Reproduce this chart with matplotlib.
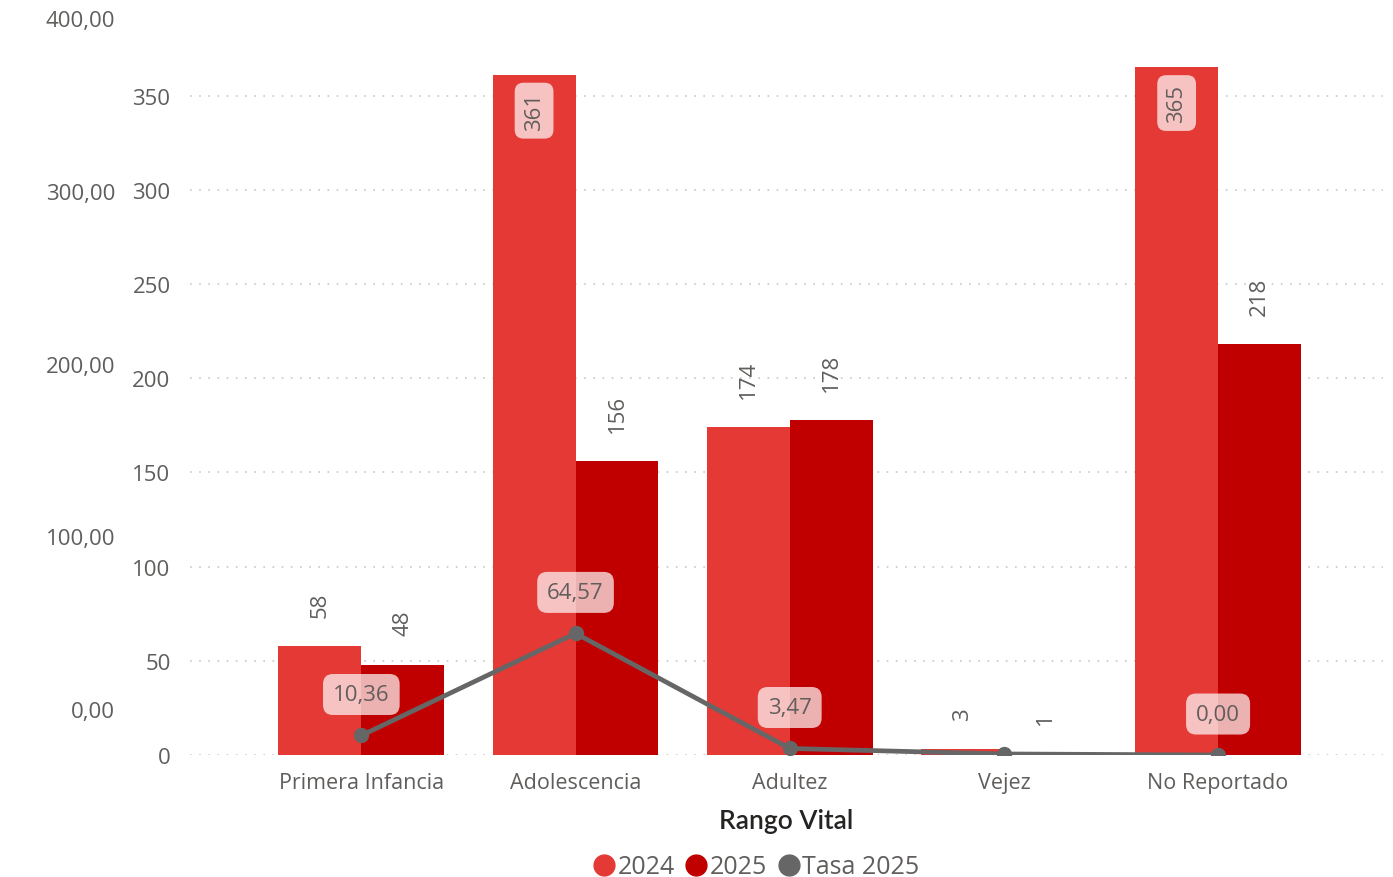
import numpy as np
import matplotlib.pyplot as plt
from matplotlib.lines import Line2D

# data
categorias = ['Primera Infancia', 'Adolescencia', 'Adultez', 'Vejez', 'No Reportado']
casos_2024 = [58, 361, 174, 3, 365]
casos_2025 = [48, 156, 178, 1, 218]
tasa_2025 = [10.36, 64.57, 3.47, 0.55, 0.00]
tasa_labels = ['10,36', '64,57', '3,47', None, '0,00']
ticks_tasa = [0, 100, 200, 300, 400]

c24 = '#E53935'
c25 = '#C00000'
cline = '#666666'
ctext = '#605E5C'

plt.rcParams['font.family'] = ['Open Sans', 'DejaVu Sans']

fig = plt.figure(figsize=(13.93, 8.78), dpi=100)
W, H = 1393, 878
left, right, bottom, top = 190 / W, 1383 / W, (H - 756) / H, (H - 10) / H
rect = [left, bottom, right - left, top - bottom]

# secondary labels (drawn at the far left, as in the report)
ax3 = fig.add_axes(rect)
ax3.set_ylim(-26.6, 405.2)
ax3.set_yticks(ticks_tasa)
ax3.set_yticklabels([f'{t:.2f}'.replace('.', ',') for t in ticks_tasa])
ax3.tick_params(axis='y', length=0, pad=54, labelsize=16, labelcolor=ctext)
ax3.set_xticks([])
for s in ax3.spines.values():
    s.set_visible(False)
ax3.patch.set_visible(False)

ax = fig.add_axes(rect)
ax.patch.set_visible(False)
x = np.arange(len(categorias))
w = 0.387
ax.bar(x - w / 2, casos_2024, w, color=c24, zorder=2)
ax.bar(x + w / 2, casos_2025, w, color=c25, zorder=2)
ax.plot(x, tasa_2025, color=cline, lw=3.4, marker='o', ms=10, zorder=4)

ax.set_xlim(-0.8, 4.77)
ax.set_ylim(0, 396)
ax.set_yticks(range(0, 351, 50))
ax.yaxis.grid(True, color='#C8C8C8', lw=1.2, linestyle=(0, (1, 4.5)), zorder=0)
ax.set_axisbelow(True)
ax.tick_params(axis='y', length=0, pad=14, labelsize=16, labelcolor=ctext)
ax.set_xticks(x)
ax.set_xticklabels(categorias)
ax.tick_params(axis='x', length=0, pad=12, labelsize=15.5, labelcolor=ctext)
for s in ax.spines.values():
    s.set_visible(False)

ax.set_xlabel('Rango Vital', fontsize=19, fontweight='semibold', color='#252423',
              family=['Lato', 'DejaVu Sans'], labelpad=11)

# bar labels
box_bar = dict(boxstyle='round,pad=0.4,rounding_size=0.4', fc='white', ec='none', alpha=0.7)
for xs, vals in ((x - w / 2, casos_2024), (x + w / 2, casos_2025)):
    for xi, v in zip(xs, vals):
        if v > 330:
            ax.annotate(str(v), (xi, v), xytext=(0, -12), textcoords='offset points',
                        rotation=90, ha='center', va='top', fontsize=16, color=ctext,
                        bbox=box_bar, zorder=5)
        else:
            ax.annotate(str(v), (xi, v), xytext=(0, 21), textcoords='offset points',
                        rotation=90, ha='center', va='bottom', fontsize=16, color=ctext,
                        zorder=5)

# line labels
box_line = dict(boxstyle='round,pad=0.45,rounding_size=0.45', fc='white', ec='none', alpha=0.7)
for xi, v, lab in zip(x, tasa_2025, tasa_labels):
    if lab is None:
        continue
    ax.annotate(lab, (xi, v), xytext=(0, 29.5), textcoords='offset points',
                ha='center', va='center', fontsize=16, color=ctext,
                bbox=box_line, zorder=6)

handles = [Line2D([], [], marker='o', ls='none', ms=15, color=c24),
           Line2D([], [], marker='o', ls='none', ms=15, color=c25),
           Line2D([], [], marker='o', ls='none', ms=15, color=cline)]
fig.legend(handles, ['2024', '2025', 'Tasa 2025'], loc='center', bbox_to_anchor=(755 / W, 1 - 868 / H),
           ncol=3, frameon=False, fontsize=18, labelcolor=ctext, handletextpad=0.0,
           columnspacing=0.3, handlelength=1.1)

fig.savefig('out.png', dpi=100)
